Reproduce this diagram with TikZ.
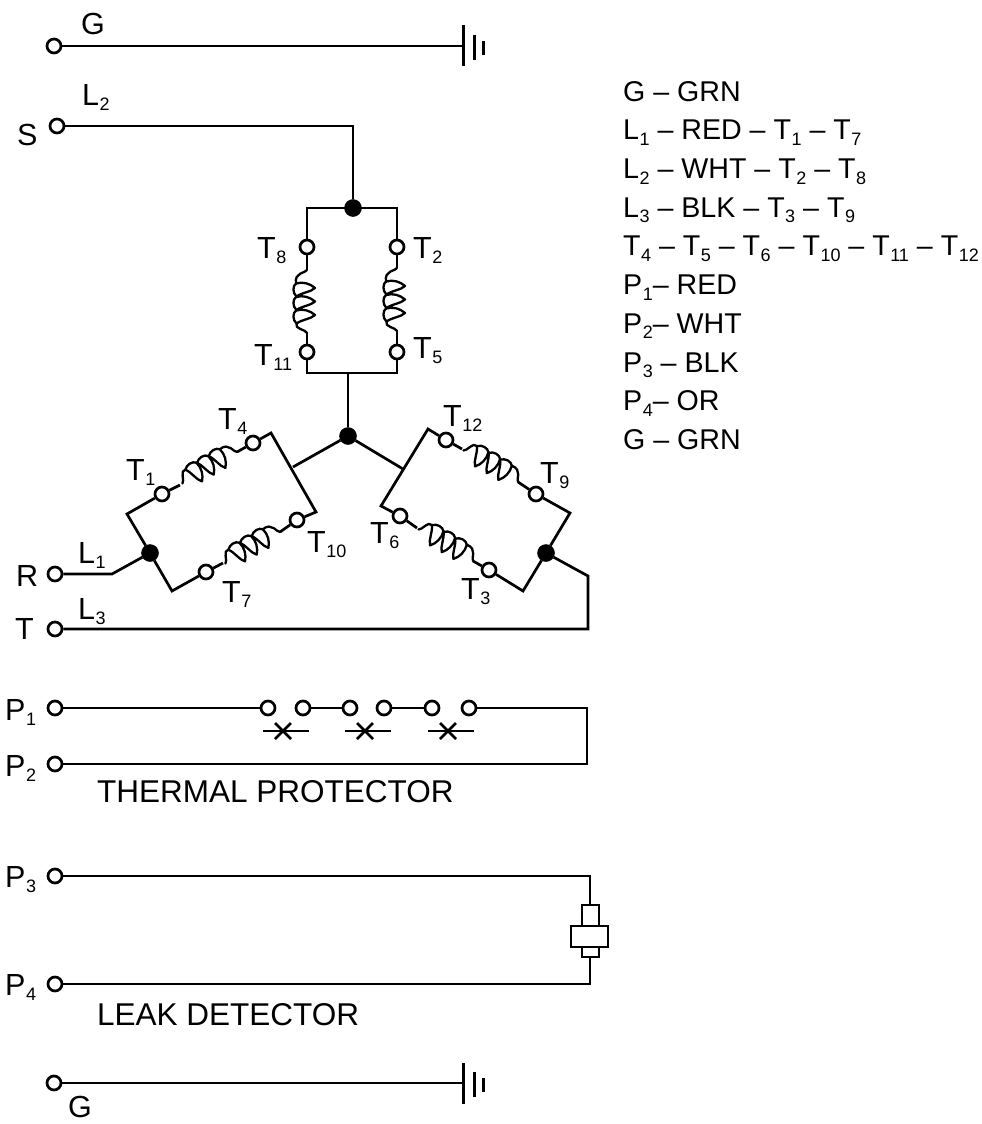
\documentclass[tikz,border=0pt]{standalone}
\usepackage{fontspec}
\setmainfont{Liberation Sans}
\newcommand{\Sbs}[2]{#1\kern0.5pt\smash{\raisebox{-5.5pt}{\fontsize{18}{18}\selectfont #2}}}
\newcommand{\coilat}[3]{%
\begin{scope}[shift={(#1,#2)},rotate=#3,x=1pt,y=1pt,line width=2.3pt,line cap=round,line join=round]
\draw (0,0) .. controls (3,-1) and (2,-13) .. (13.5,-11)
 .. controls (11.5,-4) and (13.5,3) .. (18,8)
 .. controls (22.5,3) and (22,-4) .. (26.5,-10.5) -- (27,-11)
 .. controls (25,-4) and (27,3) .. (31.5,8)
 .. controls (36,3) and (35.5,-4) .. (40,-10.5) -- (40.5,-11)
 .. controls (38.5,-4) and (40.5,3) .. (45,8)
 .. controls (49.5,3) and (49,-4) .. (53.5,-10.5)
 .. controls (59,-13) and (59.5,-1) .. (63,0);
\draw (13.5,-11) .. controls (16,-14.5) and (23,-14.5) .. (26.5,-10.5)
 (27,-11) .. controls (29.5,-14.5) and (36.5,-14.5) .. (40,-10.5)
 (40.5,-11) .. controls (43,-14.5) and (50,-14.5) .. (53.5,-10.5);
\end{scope}}
\tikzset{
 wire/.style={line width=2.7pt,line join=miter},
 term/.style={circle,draw,fill=white,line width=2.7pt,minimum size=14pt,inner sep=0pt},
 junc/.style={circle,fill=black,draw=black,line width=0.5pt,minimum size=17pt,inner sep=0pt},
 lbl/.style={anchor=base west,inner sep=0pt,font=\fontsize{30.5}{32}\selectfont},
 captext/.style={anchor=base west,inner sep=0pt,font=\fontsize{31.5}{34}\selectfont},
 box/.style={draw,fill=white,line width=2.7pt,inner sep=0pt}
}
\begin{document}
\begin{tikzpicture}[x=1pt,y=-1pt]
\useasboundingbox (0,0) rectangle (982,1124);
% ground top
\node[term] (gt) at (54,46) {};
\coordinate (gb1) at (463,46);
\draw[wire] (gt) -- (gb1);
\draw[line width=3pt] (463,25) -- (463,66) (474.5,35) -- (474.5,60) (483,41) -- (483,55);
% S
\node[term] (s) at (57,126) {};
\node[junc] (ja) at (353,208) {};
\coordinate (sc) at (353,126);
\draw[wire] (s) -- (sc) -- (ja);
\node[term] (t8) at (307,247) {};
\node[term] (t2) at (397,247) {};
\node[term] (t11) at (307,352) {};
\node[term] (t5) at (397,352) {};
\coordinate (atl) at (307,208); \coordinate (atr) at (397,208);
\coordinate (abl) at (307,373); \coordinate (abr) at (397,373);
\coordinate (a8) at (307,270); \coordinate (a11) at (307,333);
\coordinate (a2) at (397,268); \coordinate (a5) at (397,331);
\draw[wire] (t8) -- (atl) -- (atr) -- (t2);
\draw[wire] (t11) -- (abl) -- (abr) -- (t5);
\draw[wire] (t8) -- (a8) (t11) -- (a11) (t2) -- (a2) (t5) -- (a5);
\coilat{307}{270}{-90}
\coilat{397}{268}{-90}
% centre
\node[junc] (jc) at (348,436) {};
\coordinate (st) at (348,373);
\draw[wire] (st) -- (jc);
\coordinate (ml) at (293,467); \coordinate (mr) at (403,469);
\draw[wire] (jc) -- (ml) (jc) -- (mr);
% left group
\node[term] (t1) at (162,494) {};
\node[term] (t4) at (253,443) {};
\node[term] (t7) at (206,572) {};
\node[term] (t10) at (297,520) {};
\node[junc] (jl) at (150,553) {};
\coordinate (lA) at (127,514); \coordinate (lB) at (271,433);
\coordinate (lC) at (316,512); \coordinate (lD) at (172,591);
\draw[wire] (t1) -- (lA) -- (jl) -- (lD) -- (t7);
\draw[wire] (t4) -- (lB) -- (lC) -- (t10);
\coordinate (c1) at (180,485); \coordinate (c4) at (237,452);
\coordinate (c7) at (223,563); \coordinate (c10) at (280,532);
\draw[wire] (t1) -- (c1) (t4) -- (c4) (t7) -- (c7) (t10) -- (c10);
\coilat{237}{452}{210}
\coilat{280}{532}{210}
% right group
\node[term] (t12) at (446,440) {};
\node[term] (t9) at (536,494) {};
\node[term] (t6) at (400,516) {};
\node[term] (t3) at (489,570) {};
\node[junc] (jr) at (546,553) {};
\coordinate (rA) at (428,429); \coordinate (rB) at (381,506);
\coordinate (rC) at (570,513); \coordinate (rD) at (523,591);
\draw[wire] (t12) -- (rA) -- (rB) -- (t6);
\draw[wire] (t9) -- (rC) -- (jr) -- (rD) -- (t3);
\coordinate (c12) at (462,449); \coordinate (c9) at (518,482);
\coordinate (c6) at (417,528); \coordinate (c3) at (473,561);
\draw[wire] (t12) -- (c12) (t9) -- (c9) (t6) -- (c6) (t3) -- (c3);
\coilat{518}{482}{150}
\coilat{473}{561}{150}
% R, T
\node[term] (r) at (55,574) {};
\coordinate (rk) at (112,574);
\draw[wire] (r) -- (rk) -- (jl);
\node[term] (tt) at (55,629) {};
\coordinate (tk1) at (588,576); \coordinate (tk2) at (588,629);
\draw[wire] (jr) -- (tk1) -- (tk2) -- (tt);
% thermal protector
\node[term] (p1) at (55,708) {};
\node[term] (p2) at (55,764) {};
\node[term] (k1) at (268,708) {};
\node[term] (k2) at (303,708) {};
\node[term] (k3) at (350,708) {};
\node[term] (k4) at (384,708) {};
\node[term] (k5) at (432,708) {};
\node[term] (k6) at (469,708) {};
\coordinate (pa) at (587,708); \coordinate (pb) at (587,764);
\draw[wire] (p1) -- (k1) (k2) -- (k3) (k4) -- (k5) (k6) -- (pa) -- (pb) -- (p2);
\foreach \cx in {283,365,448}{
 \draw[wire] (\cx-20,731) -- (\cx+26,731);
 \draw[wire] (\cx-8,723) -- (\cx+8,739) (\cx-8,739) -- (\cx+8,723);
}
% leak detector
\node[term] (p3) at (55,876) {};
\node[term] (p4) at (55,984) {};
\node[box,minimum width=17pt,minimum height=21pt] (d1) at (590.5,915.5) {};
\node[box,minimum width=17pt,minimum height=10pt] (d3) at (590.5,952) {};
\node[box,minimum width=37pt,minimum height=21pt] (d2) at (589.5,936.5) {};
\coordinate (da) at (590,876); \coordinate (db) at (590,984);
\draw[wire] (p3) -- (da) -- (d1.north -| da);
\draw[wire] (p4) -- (db) -- (d3.south -| db);
% ground bottom
\node[term] (gb) at (54,1083) {};
\coordinate (gb2) at (463,1083);
\draw[wire] (gb) -- (gb2);
\draw[line width=3pt] (463,1063) -- (463,1104) (474.5,1072) -- (474.5,1097) (483,1078) -- (483,1092);
% labels
\node[lbl] (l1) at (81,35) {G};
\node[lbl] (l2) at (17,145) {S};
\node[lbl] (l3) at (82,105) {\Sbs{L}{2}};
\node[lbl] (l4) at (257,258) {\Sbs{T}{8}};
\node[lbl] (l5) at (413,258) {\Sbs{T}{2}};
\node[lbl] (l6) at (254,365) {\Sbs{T}{11}};
\node[lbl] (l7) at (413,358) {\Sbs{T}{5}};
\node[lbl] (l8) at (218,429) {\Sbs{T}{4}};
\node[lbl] (l9) at (126,480) {\Sbs{T}{1}};
\node[lbl] (l10) at (307,552) {\Sbs{T}{10}};
\node[lbl] (l11) at (222,602) {\Sbs{T}{7}};
\node[lbl] (l12) at (443,426) {\Sbs{T}{12}};
\node[lbl] (l13) at (540,483) {\Sbs{T}{9}};
\node[lbl] (l14) at (370,543) {\Sbs{T}{6}};
\node[lbl] (l15) at (461,599) {\Sbs{T}{3}};
\node[lbl] (l16) at (16,586) {R};
\node[lbl] (l17) at (78,563) {\Sbs{L}{1}};
\node[lbl] (l18) at (15,639) {T};
\node[lbl] (l19) at (78,619) {\Sbs{L}{3}};
\node[lbl] (l20) at (5,720) {\Sbs{P}{1}};
\node[lbl] (l21) at (5,776) {\Sbs{P}{2}};
\node[captext] (l22) at (97,802) {THERMAL PROTECTOR};
\node[lbl] (l23) at (5,887) {\Sbs{P}{3}};
\node[lbl] (l24) at (5,995) {\Sbs{P}{4}};
\node[captext] (l25) at (97,1025) {LEAK DETECTOR};
\node[lbl] (l26) at (68,1117) {G};
\node[anchor=north west,inner sep=0pt,align=left,font=\fontsize{28.6}{38.7}\selectfont] (leg) at (623,81) {G -- GRN\\
\Sbs{L}{1} -- RED -- \Sbs{T}{1} -- \Sbs{T}{7}\\
\Sbs{L}{2} -- WHT -- \Sbs{T}{2} -- \Sbs{T}{8}\\
\Sbs{L}{3} -- BLK -- \Sbs{T}{3} -- \Sbs{T}{9}\\
\Sbs{T}{4} -- \Sbs{T}{5} -- \Sbs{T}{6} -- \Sbs{T}{10} -- \Sbs{T}{11} -- \Sbs{T}{12}\\
\Sbs{P}{1}-- RED\\
\Sbs{P}{2}-- WHT\\
\Sbs{P}{3} -- BLK\\
\Sbs{P}{4}-- OR\\
G -- GRN};
\end{tikzpicture}
\end{document}
